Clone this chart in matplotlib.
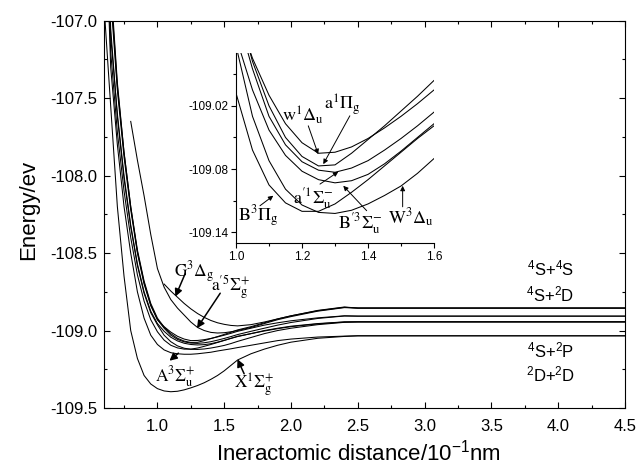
import numpy as np
import matplotlib
matplotlib.use('Agg')
import matplotlib.pyplot as plt
from matplotlib.ticker import MultipleLocator, FixedLocator, FormatStrFormatter

plt.rcParams['font.family'] = ['Liberation Sans', 'DejaVu Sans']
plt.rcParams['mathtext.fontset'] = 'custom'
plt.rcParams['mathtext.rm'] = 'Liberation Sans'
plt.rcParams['mathtext.it'] = 'Liberation Sans:italic'
plt.rcParams['mathtext.bf'] = 'Liberation Sans:bold'
plt.rcParams['axes.unicode_minus'] = False

nan = np.nan
# interatomic distance grid (10^-1 nm)
r_dist = [0.6, 0.65, 0.7, 0.75, 0.8, 0.85, 0.9, 0.95, 1.0,
          1.05, 1.1, 1.15, 1.2, 1.25, 1.3, 1.35, 1.4, 1.45, 1.5, 1.55, 1.6,
          1.7, 1.8, 1.9, 2.0, 2.2, 2.4, 2.5, 4.5]

E_X = [-106.9, -107.55, -108.2, -108.65, -109.0, -109.18, -109.29, -109.345, -109.375,
       -109.39, -109.395, -109.392, -109.383, -109.37, -109.355, -109.337, -109.315, -109.29, -109.26, -109.225, -109.19,
       -109.15, -109.12, -109.095, -109.075, -109.05, -109.038, -109.034, -109.034]
E_A = [-106.0, -107.3, -107.8, -108.2, -108.5, -108.75, -108.92, -109.03, -109.09,
       -109.125, -109.143, -109.15, -109.153, -109.153, -109.15, -109.145, -109.14, -109.132, -109.125, -109.118, -109.11,
       -109.095, -109.08, -109.065, -109.055, -109.042, -109.036, -109.034, -109.034]
E_W3Du = [-105.6, -107.05, -107.62, -108.02, -108.33, -108.58, -108.76, -108.885, -108.963,
          -109.03, -109.072, -109.099, -109.114, -109.121, -109.122, -109.119, -109.113, -109.105, -109.096, -109.084, -109.070,
          -109.045, -109.02, -109.0, -108.985, -108.962, -108.947, -108.944, -108.944]
E_Bp3Su = [-105.7, -107.1, -107.6, -108.0, -108.32, -108.57, -108.75, -108.875, -108.955,
           -109.005, -109.043, -109.067, -109.082, -109.090, -109.093, -109.091, -109.085, -109.075, -109.063, -109.050, -109.037,
           -109.02, -109.0, -108.985, -108.972, -108.955, -108.944, -108.944, -108.944]
E_ap1Su = [-105.3, -106.85, -107.45, -107.88, -108.22, -108.5, -108.7, -108.84, -108.93,
           -108.985, -109.03, -109.057, -109.073, -109.081, -109.083, -109.079, -109.072, -109.062, -109.051, -109.039, -109.026,
           -109.005, -108.985, -108.965, -108.948, -108.922, -108.906, -108.907, -108.907]
E_a1Pg = [-105.2, -106.8, -107.42, -107.85, -108.2, -108.48, -108.68, -108.825, -108.92,
          -108.978, -109.02, -109.05, -109.068, -109.077, -109.076, -109.065, -109.052, -109.039, -109.025, -109.011, -108.996,
          -108.975, -108.95, -108.925, -108.905, -108.872, -108.85, -108.855, -108.855]
E_w1Du = [-105.1, -106.75, -107.4, -107.85, -108.2, -108.49, -108.69, -108.835, -108.93,
          -108.975, -109.01, -109.037, -109.055, -109.065, -109.064, -109.059, -109.051, -109.041, -109.030, -109.018, -109.005,
          -108.985, -108.965, -108.95, -108.937, -108.918, -108.905, -108.907, -108.907]
E_B3Pg = [-105.9, -107.2, -107.72, -108.1, -108.4, -108.64, -108.81, -108.93, -109.008,
          -109.062, -109.095, -109.112, -109.120, -109.120, -109.113, -109.102, -109.090, -109.077, -109.064, -109.051, -109.039,
          -109.02, -109.003, -108.988, -108.975, -108.957, -108.945, -108.944, -108.944]
E_G3Dg = [nan, nan, nan, nan, nan, nan, nan, nan, nan,
          -108.70, -108.745, -108.785, -108.825, -108.86, -108.89, -108.915, -108.935, -108.95, -108.96, -108.967, -108.97,
          -108.962, -108.945, -108.925, -108.905, -108.87, -108.848, -108.855, -108.855]
E_ap5Sg = [nan, nan, nan, nan, -107.65, -107.9, -108.13, -108.38, -108.6,
           -108.72, -108.8, -108.855, -108.9, -108.945, -108.98, -109.0, -109.012, -109.016, -109.014, -109.008, -109.0,
           -108.98, -108.955, -108.93, -108.91, -108.875, -108.852, -108.855, -108.855]

main_states = [E_X, E_A, E_W3Du, E_Bp3Su, E_ap1Su, E_a1Pg, E_w1Du, E_B3Pg, E_G3Dg, E_ap5Sg]
inset_states = [E_W3Du, E_Bp3Su, E_ap1Su, E_a1Pg, E_w1Du, E_B3Pg]

main_xticks = [1.0, 1.5, 2.0, 2.5, 3.0, 3.5, 4.0, 4.5]
main_yticks = [-109.5, -109.0, -108.5, -108.0, -107.5, -107.0]
inset_xticks = [1.0, 1.2, 1.4, 1.6]
inset_yticks = [-109.14, -109.08, -109.02]

fig = plt.figure(figsize=(6.36, 4.67), dpi=100)
ax = fig.add_axes([104/636, 1-408/467, 521/636, 387.3/467])
for E in main_states:
    ax.plot(r_dist, E, color='k', lw=0.75)
ax.set_xlim(0.6, 4.5)
ax.set_ylim(-109.5, -107.0)
ax.xaxis.set_major_locator(FixedLocator(main_xticks))
ax.xaxis.set_minor_locator(MultipleLocator(0.25))
ax.yaxis.set_major_locator(FixedLocator(main_yticks))
ax.yaxis.set_minor_locator(MultipleLocator(0.25))
ax.xaxis.set_major_formatter(FormatStrFormatter('%.1f'))
ax.yaxis.set_major_formatter(FormatStrFormatter('%.1f'))
ax.tick_params(which='both', direction='in', top=True, right=True, labelsize=12, width=0.8)
ax.tick_params(which='major', length=4.5)
ax.tick_params(which='minor', length=2.5)
ax.tick_params(axis='x', pad=8)
ax.tick_params(axis='y', pad=5)
for s in ax.spines.values():
    s.set_linewidth(0.8)

fig.text(29/636, 1-210/467, 'Energy/ev', rotation=90, ha='center', va='center', fontsize=16)
fig.text(358/636, 1-453/467, 'Ineractomic distance/10$^{-1}$nm', ha='center', va='center', fontsize=16)

arw_main = dict(arrowstyle='-|>', color='k', lw=1.1, mutation_scale=11, shrinkA=0, shrinkB=0)
serif_kw = dict(math_fontfamily='stix', fontsize=12.5, ha='center', va='center')

ax.text(1.276, -108.621, r'$\mathrm{G}^{3}\Delta_{\mathrm{g}}$', **serif_kw)
ax.annotate('', xy=(1.134, -108.781), xytext=(1.209, -108.63), arrowprops=arw_main)
ax.text(1.545, -108.721, r"$\mathrm{a}^{\prime 5}\Sigma_{\mathrm{g}}^{+}$", **serif_kw)
ax.annotate('', xy=(1.296, -108.985), xytext=(1.47, -108.759), arrowprops=arw_main)
ax.text(1.134, -109.295, r'$\mathrm{A}^{3}\Sigma_{\mathrm{u}}^{+}$', **serif_kw)
ax.annotate('', xy=(1.09, -109.195), xytext=(1.157, -109.146), arrowprops=arw_main)
ax.text(1.724, -109.357, r'$\mathrm{X}^{1}\Sigma_{\mathrm{g}}^{+}$', **serif_kw)
ax.annotate('', xy=(1.599, -109.185), xytext=(1.649, -109.279), arrowprops=arw_main)

ax.text(3.94, -108.597, r'$^4$S+$^4$S', ha='center', va='center', fontsize=12)
ax.text(3.94, -108.77, r'$^4$S+$^2$D', ha='center', va='center', fontsize=12)
ax.text(3.94, -109.131, r'$^4$S+$^2$P', ha='center', va='center', fontsize=12)
ax.text(3.94, -109.286, r'$^2$D+$^2$D', ha='center', va='center', fontsize=12)

# inset
axin = fig.add_axes([236/636, 1-243/467, 198/636, 190/467])
axin.patch.set_alpha(0)
for E in inset_states:
    axin.plot(r_dist, E, color='k', lw=0.75)
axin.set_xlim(1.0, 1.6)
axin.set_ylim(-109.15, -108.97)
axin.spines['top'].set_visible(False)
axin.spines['right'].set_visible(False)
for s in ['left', 'bottom']:
    axin.spines[s].set_linewidth(0.8)
axin.xaxis.set_major_locator(FixedLocator(inset_xticks))
axin.xaxis.set_minor_locator(FixedLocator([1.1, 1.3, 1.5]))
axin.yaxis.set_major_locator(FixedLocator(inset_yticks))
axin.yaxis.set_minor_locator(FixedLocator([-109.11, -109.05, -108.99]))
axin.xaxis.set_major_formatter(FormatStrFormatter('%.1f'))
axin.yaxis.set_major_formatter(FormatStrFormatter('%.2f'))
axin.tick_params(which='both', direction='out', top=False, right=False, labelsize=8.5, width=0.8, pad=2)
axin.tick_params(which='major', length=3.5)
axin.tick_params(which='minor', length=2.5)

arw_in = dict(arrowstyle='-|>', color='k', lw=0.7, mutation_scale=7, shrinkA=0, shrinkB=0)
in_kw = dict(math_fontfamily='stix', fontsize=13, ha='center', va='center')
axin.text(1.204, -109.0287, r'$\mathrm{w}^{1}\Delta_{\mathrm{u}}$', **in_kw)
axin.annotate('', xy=(1.249, -109.0658), xytext=(1.219, -109.039), arrowprops=arw_in)
axin.text(1.3227, -109.0192, r'$\mathrm{a}^{1}\Pi_{\mathrm{g}}$', **in_kw)
axin.annotate('', xy=(1.2645, -109.0753), xytext=(1.345, -109.0295), arrowprops=arw_in)
axin.text(1.234, -109.1076, r"$\mathrm{a}^{\prime 1}\Sigma_{\mathrm{u}}^{-}$", **in_kw)
axin.annotate('', xy=(1.31, -109.0825), xytext=(1.2545, -109.0942), arrowprops=arw_in)
axin.text(1.0676, -109.125, r'$\mathrm{B}^{3}\Pi_{\mathrm{g}}$', **in_kw)
axin.annotate('', xy=(1.113, -109.1052), xytext=(1.0727, -109.1147), arrowprops=arw_in)
axin.text(1.3758, -109.1313, r"$\mathrm{B}^{\prime 3}\Sigma_{\mathrm{u}}^{-}$", **in_kw)
axin.annotate('', xy=(1.325, -109.0958), xytext=(1.396, -109.1194), arrowprops=arw_in)
axin.text(1.53, -109.1265, r'$\mathrm{W}^{3}\Delta_{\mathrm{u}}$', **in_kw)
axin.annotate('', xy=(1.505, -109.0958), xytext=(1.505, -109.1157), arrowprops=arw_in)

fig.savefig('out.png', dpi=100)
